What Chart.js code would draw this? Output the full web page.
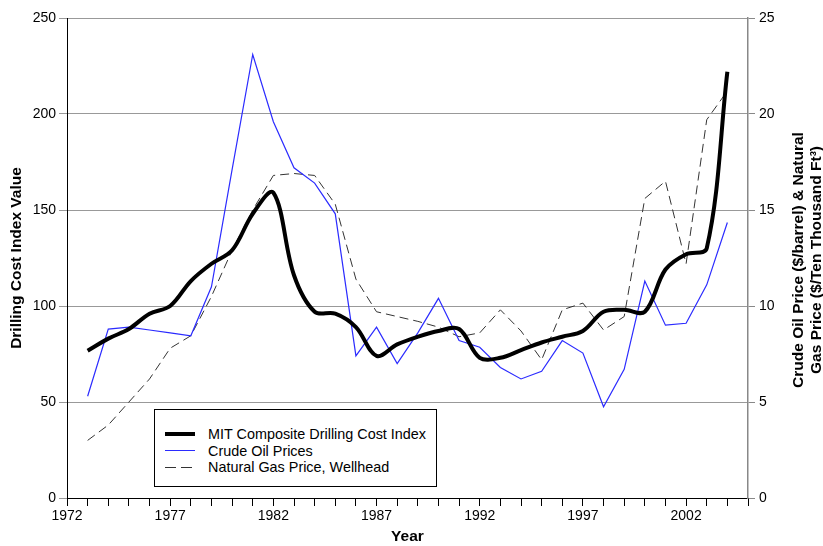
<!DOCTYPE html>
<html>
<head>
<meta charset="utf-8">
<script src="https://cdn.jsdelivr.net/npm/chart.js@4"></script>
<style>
  body { margin: 0; background: #fff; }
  #wrap { position: relative; width: 823px; height: 546px; }
  #legend {
    position: absolute; left: 154px; top: 409px; width: 281px; height: 76px;
    border: 1px solid #000; background: #fff;
    font: 14.4px "Liberation Sans", Arial, sans-serif; color: #000;
  }
  #legend .row { position: absolute; left: 10px; height: 16px; line-height: 16px; }
  #legend .swatch { position: absolute; left: 0; top: 8px; width: 30px; }
  #legend .txt { position: absolute; left: 43px; top: 0; white-space: nowrap; }
</style>
</head>
<body>
<div id="wrap">
  <canvas id="myChart" width="823" height="546"></canvas>
  <div id="legend"></div>
</div>
<script>
var years = [1973, 1974, 1975, 1976, 1977, 1978, 1979, 1980, 1981, 1982, 1983, 1984, 1985, 1986, 1987, 1988,
  1989, 1990, 1991, 1992, 1993, 1994, 1995, 1996, 1997, 1998, 1999, 2000, 2001, 2002, 2003, 2004];
var mitIndex = [76.7, 83, 88, 96, 100, 113, 122, 129, 148, 159, 116, 97, 96, 89, 74, 80,
  84, 87, 88, 73, 73, 77, 81, 84, 87, 97, 98, 97, 119, 127, 130, 222];
var crudeOil = [5.3, 8.8, 8.9, 8.75, 8.6, 8.45, 11.0, 17.1, 23.1, 19.6, 17.2, 16.4, 14.8, 7.4, 8.9, 7.0,
  8.6, 10.4, 8.2, 7.85, 6.8, 6.2, 6.6, 8.2, 7.55, 4.75, 6.7, 11.3, 9.0, 9.1, 11.1, 14.35];
var naturalGas = [3.0, 3.8, 5.0, 6.2, 7.8, 8.45, 10.5, 12.9, 15.0, 16.8, 16.9, 16.8, 15.3, 11.4, 9.7, 9.45,
  9.2, 8.9, 8.4, 8.6, 9.8, 8.7, 7.2, 9.8, 10.15, 8.75, 9.45, 15.6, 16.5, 12.2, 19.7, 21.2];
var leftTicks = [0, 50, 100, 150, 200, 250];
var rightTicks = [0, 5, 10, 15, 20, 25];

var FONT = '"Liberation Sans", Arial, sans-serif';

function pts(vals) {
  return vals.map(function (v, i) { return { x: years[i], y: v }; });
}

// right axis title reads bottom-to-top, so draw it ourselves
var rightTitle = {
  id: 'rightTitle',
  afterDraw: function (chart) {
    var ctx = chart.ctx;
    var cy = (chart.chartArea.top + chart.chartArea.bottom) / 2;
    ctx.save();
    ctx.font = 'bold 15.5px ' + FONT;
    ctx.fillStyle = '#000';
    ctx.textAlign = 'center';
    ctx.textBaseline = 'middle';
    ctx.translate(799, cy + 2);
    ctx.rotate(-Math.PI / 2);
    ctx.fillText('Crude Oil Price ($/barrel) & Natural', 0, 0);
    ctx.fillText('Gas Price ($/Ten Thousand Ft³)', 0, 18);
    ctx.restore();
  }
};

var ctx = document.getElementById('myChart').getContext('2d');
var myChart = new Chart(ctx, {
  type: 'line',
  data: {
    datasets: [{
      label: 'MIT Composite Drilling Cost Index',
      data: pts(mitIndex),
      borderColor: '#000',
      borderWidth: 4,
      tension: 0.35,
      yAxisID: 'y',
      pointRadius: 0
    }, {
      label: 'Crude Oil Prices',
      data: pts(crudeOil),
      borderColor: '#2b2bff',
      borderWidth: 1.2,
      tension: 0,
      yAxisID: 'y2',
      pointRadius: 0
    }, {
      label: 'Natural Gas Price, Wellhead',
      data: pts(naturalGas),
      borderColor: '#333',
      borderWidth: 1,
      borderDash: [9, 5],
      tension: 0,
      yAxisID: 'y2',
      pointRadius: 0
    }]
  },
  options: {
    responsive: false,
    animation: false,
    layout: { padding: { top: 18, right: 0, left: 0, bottom: 0 } },
    plugins: { legend: { display: false }, tooltip: { enabled: false } },
    scales: {
      x: {
        type: 'linear',
        min: 1972,
        max: 2005,
        afterFit: function (s) { s.height = 48; },
        afterBuildTicks: function (s) {
          var t = [];
          for (var v = 1972; v <= 2005; v++) t.push({ value: v });
          s.ticks = t;
        },
        ticks: {
          autoSkip: false, maxRotation: 0, padding: 2,
          color: '#000', font: { family: FONT, size: 14 },
          callback: function (v) { return (v - 1972) % 5 === 0 ? String(v) : ''; }
        },
        grid: { drawOnChartArea: false, tickLength: 8, tickColor: '#000' },
        border: { color: '#000', width: 1 },
        title: {
          display: true, text: 'Year', color: '#000',
          font: { family: FONT, size: 15.5, weight: 'bold' }, padding: { top: 1, bottom: 0 }
        }
      },
      y: {
        position: 'left',
        min: 0, max: 250,
        afterFit: function (s) { s.width = 67; },
        afterBuildTicks: function (s) { s.ticks = leftTicks.map(function (v) { return { value: v }; }); },
        ticks: { color: '#000', padding: 3, font: { family: FONT, size: 14 } },
        grid: { color: '#999', tickLength: 8, tickColor: '#999' },
        border: { color: '#000', width: 1 },
        title: {
          display: true, text: 'Drilling Cost Index Value', color: '#000',
          font: { family: FONT, size: 15.5, weight: 'bold' }, padding: { top: 7, bottom: 0 }
        }
      },
      y2: {
        position: 'right',
        min: 0, max: 25,
        afterFit: function (s) { s.width = 75; },
        afterBuildTicks: function (s) { s.ticks = rightTicks.map(function (v) { return { value: v }; }); },
        ticks: { color: '#000', padding: 4, font: { family: FONT, size: 14 } },
        grid: { drawOnChartArea: false, tickLength: 7, tickColor: '#888' },
        border: { color: '#888', width: 1.5 }
      }
    }
  },
  plugins: [rightTitle]
});

// legend box inside the plot, built from the datasets
var lg = document.getElementById('legend');
myChart.data.datasets.forEach(function (ds, i) {
  var row = document.createElement('div');
  row.className = 'row';
  row.style.top = (16 + i * 16.5) + 'px';
  var sw = document.createElement('div');
  sw.className = 'swatch';
  var w = Math.max(1, ds.borderWidth);
  sw.style.borderTop = w + 'px solid ' + ds.borderColor;
  sw.style.marginTop = (-w / 2) + 'px';
  if (ds.borderDash) {
    sw.style.borderTop = 'none';
    sw.style.height = '1px';
    sw.style.background = 'repeating-linear-gradient(90deg,' + ds.borderColor + ' 0 11px, transparent 11px 16px)';
  }
  var tx = document.createElement('div');
  tx.className = 'txt';
  tx.textContent = ds.label;
  row.appendChild(sw);
  row.appendChild(tx);
  lg.appendChild(row);
});
</script>
</body>
</html>
